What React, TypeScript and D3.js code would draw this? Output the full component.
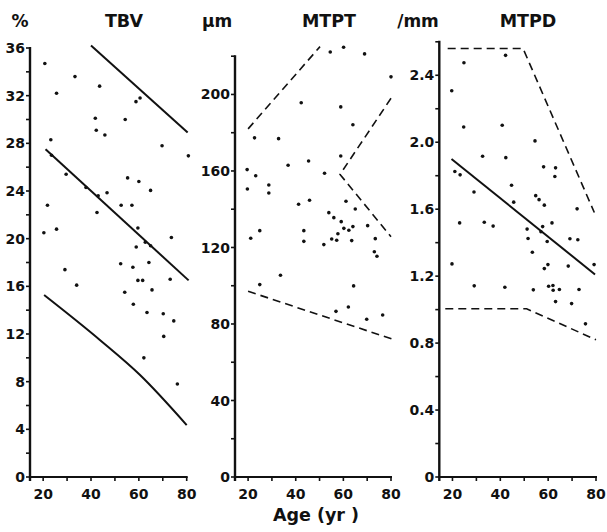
import React from "react";
import * as d3 from "d3";

// ---- Data (age in years, value) ----
const tbvPoints: [number, number][] = [
  [20.7, 34.7], [33.3, 33.6], [25.6, 32.2], [43.6, 32.8], [41.8, 30.1], [42.2, 29.1],
  [45.8, 28.7], [54.3, 30.0], [58.8, 31.5], [60.5, 31.8], [23.2, 28.3], [23.5, 27.0],
  [69.7, 27.8], [80.7, 26.95], [29.6, 25.4], [55.3, 25.1], [60.0, 24.8], [64.9, 24.05],
  [37.9, 24.3], [43.0, 23.6], [46.7, 23.85], [21.8, 22.8], [52.6, 22.8], [57.1, 22.8],
  [42.5, 22.2], [20.3, 20.5], [25.6, 20.8], [59.6, 20.9], [73.6, 20.1], [62.7, 19.7],
  [64.9, 19.4], [58.9, 19.3], [52.4, 17.9], [64.2, 18.0], [57.5, 17.6], [29.1, 17.4],
  [59.6, 16.5], [61.6, 16.5], [73.1, 16.6], [34.0, 16.1], [54.1, 15.5], [65.5, 15.7],
  [57.7, 14.5], [63.4, 13.8], [70.2, 13.7], [74.6, 13.1], [70.4, 11.8], [62.1, 10.0],
  [76.1, 7.8],
];
const tbvUpper: [number, number][] = [[40, 36.2], [80.4, 28.9]];
const tbvMean: [number, number][] = [[21, 27.5], [80.8, 16.5]];
const tbvLower: [number, number][] = [[20.4, 15.27], [43.7, 11.5], [60.5, 8.56], [80, 4.36]];

const mtptPoints: [number, number][] = [
  [54.5, 222.2], [60.1, 224.7], [68.9, 221.2], [80.0, 209.2], [42.3, 195.7], [58.9, 193.5],
  [64.0, 184.2], [22.7, 177.3], [32.8, 176.9], [58.9, 167.8], [36.8, 163.0], [45.4, 165.2],
  [19.6, 160.7], [23.2, 157.5], [52.1, 158.8], [19.7, 150.6], [28.7, 152.7], [28.7, 148.5],
  [41.2, 142.6], [45.8, 144.7], [61.1, 144.2], [53.9, 138.2], [56.0, 135.6], [65.0, 140.1],
  [59.1, 133.5], [60.2, 130.0], [62.3, 129.0], [64.0, 130.9], [57.7, 127.2], [70.2, 131.4],
  [43.4, 128.8], [43.4, 123.2], [24.9, 128.8], [21.1, 124.8], [55.1, 124.4], [57.2, 123.8],
  [63.5, 123.6], [51.8, 121.5], [73.4, 124.6], [73.0, 117.8], [74.1, 115.4], [33.6, 105.5],
  [24.9, 100.6], [64.3, 99.9], [62.1, 88.9], [56.9, 86.6], [69.8, 82.5], [76.5, 84.7],
];
const mtptUpperLeft: [number, number][] = [[20, 182], [50.2, 225]];
const mtptUpperRight: [number, number][] = [[80, 198], [58.6, 158.2], [80, 125.6]];
const mtptLower: [number, number][] = [[20, 97.1], [80.3, 72.2]];

const mtpdPoints: [number, number][] = [
  [19.7, 2.308], [24.8, 2.475], [42.2, 2.519], [24.7, 2.091], [40.8, 2.101], [54.5, 2.008],
  [32.6, 1.916], [42.3, 1.908], [58.1, 1.853], [63.1, 1.847], [21.0, 1.825], [23.2, 1.805],
  [62.8, 1.795], [29.0, 1.703], [44.7, 1.743], [45.6, 1.642], [54.8, 1.681], [56.2, 1.657],
  [58.4, 1.624], [72.1, 1.602], [23.0, 1.518], [33.3, 1.522], [37.0, 1.499], [61.6, 1.518],
  [57.7, 1.496], [51.2, 1.481], [57.0, 1.465], [51.6, 1.425], [59.6, 1.407], [69.1, 1.423],
  [72.4, 1.417], [53.4, 1.343], [59.9, 1.269], [58.4, 1.245], [68.4, 1.26], [79.2, 1.269],
  [19.8, 1.273], [29.1, 1.142], [41.9, 1.134], [53.8, 1.118], [60.2, 1.14], [62.0, 1.144],
  [62.1, 1.116], [64.7, 1.12], [72.9, 1.12], [63.1, 1.048], [69.8, 1.036], [75.6, 0.915],
];
const mtpdUpper: [number, number][] = [[18, 2.56], [49.5, 2.56], [79.3, 1.58]];
const mtpdMean: [number, number][] = [[19.6, 1.9], [79.6, 1.21]];
const mtpdLower: [number, number][] = [[17, 1.005], [51, 1.005], [80, 0.82]];

const xTickValues = [20, 30, 40, 50, 60, 70, 80];
const xTickLabels = [20, 40, 60, 80];

type LineDef = { pts: [number, number][]; dashed: boolean; smooth?: boolean };
type Panel = {
  title: string;
  unit: string;
  points: [number, number][];
  lines: LineDef[];
  yMax: number;
  yStep: number;
  yLabelStep: number;
  fmt: (v: number) => string;
  // layout
  x0: number;
  x1: number;
  yTop: number;
  unitX: number;
  titleX: number;
};

const FONT = "'DejaVu Sans', 'Liberation Sans', Arial, sans-serif";
const Y0 = 477;

const panels: Panel[] = [
  {
    title: "TBV", unit: "%", points: tbvPoints,
    lines: [
      { pts: tbvUpper, dashed: false },
      { pts: tbvMean, dashed: false },
      { pts: tbvLower, dashed: false, smooth: true },
    ],
    yMax: 36, yStep: 2, yLabelStep: 4, fmt: (v) => String(v),
    x0: 30, x1: 186.7, yTop: 48, unitX: 20, titleX: 124,
  },
  {
    title: "MTPT", unit: "μm", points: mtptPoints,
    lines: [{ pts: mtptUpperLeft, dashed: true }, { pts: mtptUpperRight, dashed: true }, { pts: mtptLower, dashed: true }],
    yMax: 220, yStep: 20, yLabelStep: 40, fmt: (v) => String(v),
    x0: 235, x1: 391, yTop: 56.2, unitX: 217, titleX: 329,
  },
  {
    title: "MTPD", unit: "/mm", points: mtpdPoints,
    lines: [{ pts: mtpdUpper, dashed: true }, { pts: mtpdMean, dashed: false }, { pts: mtpdLower, dashed: true }],
    yMax: 2.6, yStep: 0.2, yLabelStep: 0.4, fmt: (v) => (v === 0 ? "0" : v.toFixed(1)),
    x0: 439.3, x1: 596, yTop: 41.8, unitX: 418, titleX: 528,
  },
];

function PanelView({ p }: { p: Panel }) {
  const x = d3.scaleLinear().domain([14.5, 80]).range([p.x0, p.x1]);
  const y = d3.scaleLinear().domain([0, p.yMax]).range([Y0, p.yTop]);
  const line = d3.line<[number, number]>().x((d) => x(d[0])).y((d) => y(d[1]));
  const smoothLine = d3.line<[number, number]>().x((d) => x(d[0])).y((d) => y(d[1])).curve(d3.curveMonotoneX);
  const n = Math.round(p.yMax / p.yStep);
  const yTicks = d3.range(0, n + 1).map((i) => +(i * p.yStep).toFixed(4));
  const ratio = Math.round(p.yLabelStep / p.yStep);
  const yLabels = yTicks.filter((_, i) => i % ratio === 0);
  const ink = "#111";
  return (
    <g>
      <text x={p.unitX} y={27} textAnchor="middle" fontFamily={FONT} fontWeight="bold" fontSize={17} fill={ink}>{p.unit}</text>
      <text x={p.titleX} y={27} textAnchor="middle" fontFamily={FONT} fontWeight="bold" fontSize={17.5} fill={ink}>{p.title}</text>
      {/* axes */}
      <line x1={p.x0} x2={p.x0} y1={Y0 + 4} y2={y(p.yMax) - 1} stroke={ink} strokeWidth={2.4} />
      <line x1={p.x0 - 1} x2={x(80) + 1} y1={Y0} y2={Y0} stroke={ink} strokeWidth={2.2} />
      {yTicks.map((v) => (
        <line key={"yt" + v} x1={p.x0 - 4} x2={p.x0} y1={y(v)} y2={y(v)} stroke={ink} strokeWidth={1.6} />
      ))}
      {yLabels.map((v) => (
        <text key={"yl" + v} x={p.x0 - 5} y={y(v)} dy="0.36em" textAnchor="end" fontFamily={FONT} fontWeight="bold" fontSize={14} fill={ink}>{p.fmt(v)}</text>
      ))}
      {xTickValues.map((v) => (
        <line key={"xt" + v} x1={x(v)} x2={x(v)} y1={Y0} y2={Y0 + 4} stroke={ink} strokeWidth={1.6} />
      ))}
      {xTickLabels.map((v) => (
        <text key={"xl" + v} x={x(v)} y={499} textAnchor="middle" fontFamily={FONT} fontWeight="bold" fontSize={14} fill={ink}>{v}</text>
      ))}
      {/* lines */}
      {p.lines.map((l, i) => (
        <path key={"l" + i} d={(l.smooth ? smoothLine(l.pts) : line(l.pts)) || ""} fill="none" stroke={ink}
          strokeWidth={l.dashed ? 1.6 : 2} strokeDasharray={l.dashed ? "8,5" : undefined} />
      ))}
      {/* points */}
      {p.points.map((d, i) => (
        <circle key={"p" + i} cx={x(d[0])} cy={y(d[1])} r={1.8} fill={ink} />
      ))}
    </g>
  );
}

export default function App() {
  return (
    <svg width={607} height={532} viewBox="0 0 607 532"
      style={{ position: "absolute", left: 0, top: 0, background: "#fff" }}>
      <rect x={0} y={0} width={607} height={532} fill="#fff" />
      {panels.map((p) => (
        <PanelView key={p.title} p={p} />
      ))}
      <text x={316} y={521} textAnchor="middle" fontFamily={FONT} fontWeight="bold" fontSize={17.5} fill="#111">Age (yr )</text>
    </svg>
  );
}
